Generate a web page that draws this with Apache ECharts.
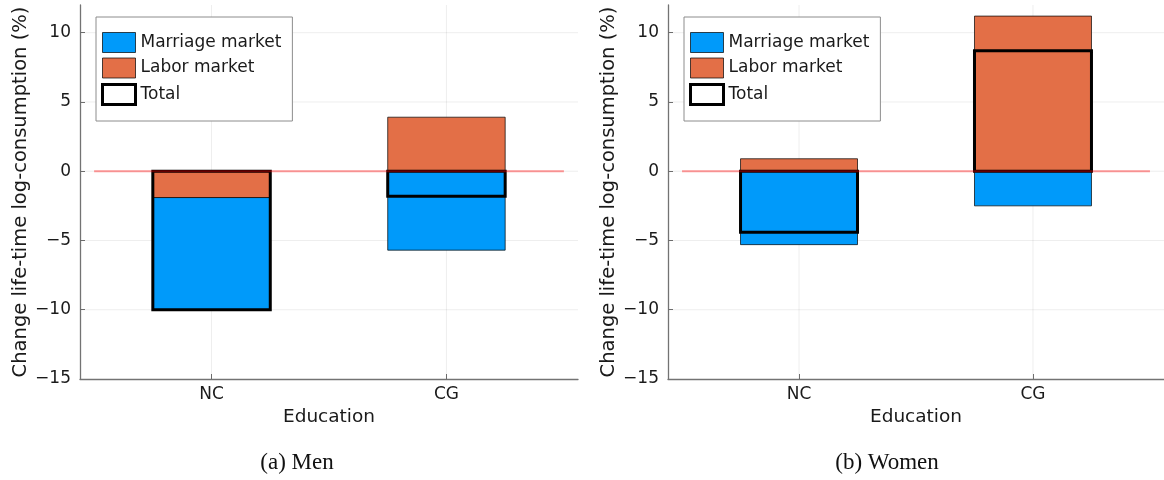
<!DOCTYPE html>
<html>
<head>
<meta charset="utf-8">
<script src="https://cdn.jsdelivr.net/npm/echarts@6/dist/echarts.min.js"></script>
<style>
  html, body { margin: 0; padding: 0; background: #fff; }
  #chart { width: 1164px; height: 480px; }
</style>
</head>
<body>
<div id="chart"></div>
<script>
// Education groups on the horizontal axis (placed at x = 1, 2)
const categories = ['NC', 'CG'];
const yTicks = [-15, -10, -5, 0, 5, 10];

// Decomposition of the change in life-time log-consumption (%)
const menMarriage = [-8.1, -5.7];
const menLabor = [-1.9, 3.9];
const menTotal = [-10.0, -1.8];

const womenMarriage = [-5.3, -2.5];
const womenLabor = [0.9, 11.2];
const womenTotal = [-4.4, 8.7];

const panelTitles = ['(a) Men', '(b) Women'];
const seriesNames = ['Marriage market', 'Labor market', 'Total'];

const FONT = 'DejaVu Sans';
const TEXT = '#1a1a1a';
const AXIS = '#737373';
const BLUE = '#009AFA';
const ORANGE = '#E36F47';
const BAR_HALF = 0.25;
const X_MIN = 0.44, X_MAX = 2.56;

// Stack the two components: labor market from zero, marriage market on top
// of it when both share a sign, otherwise from zero on the other side.
function stackSegments(labor, marriage) {
  const lab = [], mar = [];
  labor.forEach((l, i) => {
    const m = marriage[i];
    lab.push([i + 1, 0, l]);
    const base = Math.sign(m) === Math.sign(l) ? l : 0;
    mar.push([i + 1, base, base + m]);
  });
  return { lab, mar };
}

function rectFor(api) {
  const x = api.value(0);
  const p0 = api.coord([x - BAR_HALF, api.value(1)]);
  const p1 = api.coord([x + BAR_HALF, api.value(2)]);
  return {
    x: Math.min(p0[0], p1[0]),
    y: Math.min(p0[1], p1[1]),
    width: Math.abs(p1[0] - p0[0]),
    height: Math.abs(p1[1] - p0[1])
  };
}

function barSeries(name, data, color, idx) {
  return {
    name, type: 'custom', xAxisIndex: idx, yAxisIndex: idx, z: 2,
    data, encode: { x: 0, y: [1, 2] }, silent: true,
    itemStyle: { color, borderColor: 'rgba(0,0,0,0.7)', borderWidth: 1 },
    renderItem: (params, api) => ({
      type: 'rect', shape: rectFor(api),
      style: { fill: color, stroke: 'rgba(0,0,0,0.7)', lineWidth: 1 }
    })
  };
}

function totalSeries(totals, idx) {
  return {
    name: 'Total', type: 'custom', xAxisIndex: idx, yAxisIndex: idx, z: 3,
    data: totals.map((t, i) => [i + 1, 0, t]), encode: { x: 0, y: [1, 2] }, silent: true,
    itemStyle: { color: '#fff', borderColor: '#000', borderWidth: 3 },
    renderItem: (params, api) => ({
      type: 'rect', shape: rectFor(api),
      style: { fill: 'none', stroke: '#000', lineWidth: 3 }
    })
  };
}

// Faint grid lines at the tick positions
function gridSeries(idx) {
  const h = yTicks.filter(v => v > -15).map(v => [0, v, 0]);
  const v = categories.map((c, i) => [i + 1, 0, 1]);
  return {
    type: 'custom', xAxisIndex: idx, yAxisIndex: idx, z: 1, silent: true,
    data: h.concat(v), encode: { x: 0, y: 1 },
    renderItem: (params, api) => {
      const cs = params.coordSys;
      const vertical = api.value(2) === 1;
      let shape;
      if (vertical) {
        const p = api.coord([api.value(0), 0]);
        shape = { x1: p[0], y1: cs.y, x2: p[0], y2: cs.y + cs.height };
      } else {
        const p = api.coord([1, api.value(1)]);
        shape = { x1: cs.x, y1: p[1], x2: cs.x + cs.width, y2: p[1] };
      }
      return { type: 'line', shape, style: { stroke: 'rgba(0,0,0,0.07)', lineWidth: 1 } };
    }
  };
}

function zeroLine(idx) {
  return {
    type: 'line', xAxisIndex: idx, yAxisIndex: idx, z: 5, silent: true,
    data: [[0.5, 0], [2.5, 0]], symbol: 'none',
    lineStyle: { color: 'rgba(255,0,0,0.4)', width: 2 }
  };
}

const gridLefts = [80, 668];
const legendLefts = [96, 684];
const captionX = [297, 887];

function xAxisFor(idx) {
  return {
    type: 'value', gridIndex: idx, min: X_MIN, max: X_MAX,
    name: 'Education', nameLocation: 'middle', nameGap: 28,
    nameTextStyle: { fontSize: 18.5, color: TEXT, fontFamily: FONT },
    axisLine: { show: true, onZero: false, lineStyle: { color: AXIS, width: 1.3 } },
    axisTick: { show: true, inside: true, length: 5, customValues: [1, 2], lineStyle: { color: AXIS } },
    axisLabel: {
      customValues: [1, 2], margin: 7, fontSize: 17, color: TEXT, fontFamily: FONT,
      formatter: v => categories[Math.round(v) - 1] || ''
    },
    splitLine: { show: false }
  };
}

function yAxisFor(idx) {
  return {
    type: 'value', gridIndex: idx, min: -15, max: 12, interval: 5,
    name: 'Change life-time log-consumption (%)', nameLocation: 'middle', nameGap: 47,
    nameTextStyle: { fontSize: 19.5, color: TEXT, fontFamily: FONT },
    axisLine: { show: true, onZero: false, lineStyle: { color: AXIS, width: 1.3 } },
    axisTick: { show: true, inside: true, length: 5, customValues: yTicks, lineStyle: { color: AXIS } },
    axisLabel: {
      customValues: yTicks, margin: 9, fontSize: 17, color: TEXT, fontFamily: FONT,
      formatter: v => String(v).replace('-', '\u2212')
    },
    splitLine: { show: false }
  };
}

function legendFor(idx) {
  return {
    left: legendLefts[idx], top: 17, orient: 'vertical', selectedMode: false,
    itemWidth: 33, itemHeight: 20, itemGap: 4.5, padding: [15, 11, 15, 5],
    backgroundColor: '#fff', borderColor: '#8c8c8c', borderWidth: 1,
    icon: 'rect',
    textStyle: { fontSize: 17, color: TEXT, fontFamily: FONT },
    data: [
      { name: seriesNames[0], itemStyle: { color: BLUE, borderColor: 'rgba(0,0,0,0.7)', borderWidth: 1 } },
      { name: seriesNames[1], itemStyle: { color: ORANGE, borderColor: 'rgba(0,0,0,0.7)', borderWidth: 1 } },
      { name: seriesNames[2], itemStyle: { color: '#fff', borderColor: '#000', borderWidth: 3 } }
    ]
  };
}

const men = stackSegments(menLabor, menMarriage);
const women = stackSegments(womenLabor, womenMarriage);

const option = {
  animation: false,
  backgroundColor: '#fff',
  textStyle: { fontFamily: FONT },
  grid: gridLefts.map(l => ({ left: l, top: 5, width: 498, height: 374 })),
  xAxis: [xAxisFor(0), xAxisFor(1)],
  yAxis: [yAxisFor(0), yAxisFor(1)],
  legend: [legendFor(0), legendFor(1)],
  series: [
    gridSeries(0),
    barSeries(seriesNames[0], men.mar, BLUE, 0),
    barSeries(seriesNames[1], men.lab, ORANGE, 0),
    totalSeries(menTotal, 0),
    zeroLine(0),
    gridSeries(1),
    barSeries(seriesNames[0], women.mar, BLUE, 1),
    barSeries(seriesNames[1], women.lab, ORANGE, 1),
    totalSeries(womenTotal, 1),
    zeroLine(1)
  ],
  // Panel captions below each plot
  graphic: panelTitles.map((t, i) => ({
    type: 'text', x: captionX[i], y: 463,
    style: {
      text: t, fontSize: 23, fontFamily: 'Liberation Serif', fill: '#111',
      textAlign: 'center', textVerticalAlign: 'middle'
    }
  }))
};

const chart = echarts.init(document.getElementById('chart'), null, { renderer: 'canvas' });
chart.setOption(option);
</script>
</body>
</html>
